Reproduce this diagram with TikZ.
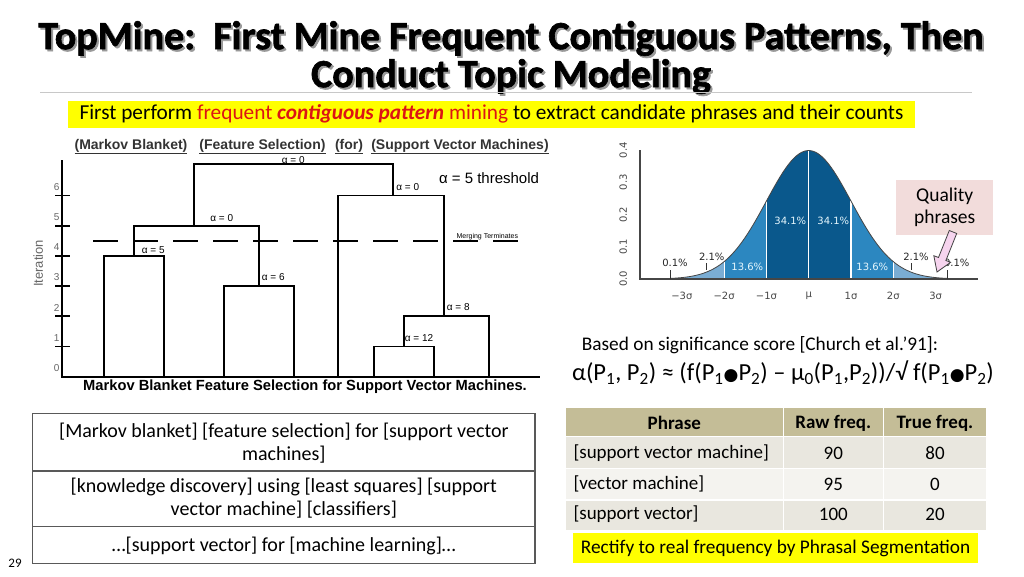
\documentclass[tikz,border=0pt]{standalone}
\usepackage{fontspec}
\setmainfont{Carlito}
\newfontfamily\titlefont{Carlito}[BoldFeatures={FakeBold=1.6}]
\newfontfamily\chartfont{Liberation Sans}
\newfontfamily\symfont{DejaVu Sans}
\usetikzlibrary{positioning,calc}
\definecolor{hiyellow}{RGB}{255,255,0}
\definecolor{curvedark}{RGB}{10,88,140}
\definecolor{curvemid}{RGB}{44,135,192}
\definecolor{curvelight}{RGB}{122,173,212}
\definecolor{curvetail}{RGB}{178,206,228}
\definecolor{pinkbox}{RGB}{242,220,219}
\definecolor{pinkarrow}{RGB}{246,212,238}
\definecolor{tabhead}{RGB}{196,189,151}
\definecolor{tabrowA}{RGB}{233,231,223}
\definecolor{tabrowB}{RGB}{244,243,239}
\definecolor{rulegray}{RGB}{200,200,200}
\definecolor{axisgray}{RGB}{70,70,70}
\definecolor{phrasered}{RGB}{220,20,20}

\begin{document}
\begin{tikzpicture}[
    x=1pt, y=-1pt,
    % Styles
    titletxt/.style={inner sep=0pt, align=center, font=\titlefont\bfseries\fontsize{40}{38}\selectfont},
    titleshade/.style={titletxt, text=black!40},
    yellowbox/.style={rectangle, fill=hiyellow, inner sep=0pt, align=center},
    dline/.style={line width=1.8pt},
    chartlbl/.style={inner sep=0pt, font=\chartfont\fontsize{10}{12}\selectfont},
    ticklbl/.style={inner sep=0pt, text=black!60, font=\chartfont\fontsize{10}{12}\selectfont},
    headlbl/.style={inner sep=0pt, text=black!80, font=\chartfont\bfseries\fontsize{14}{16}\selectfont},
    belllbl/.style={inner sep=0pt, font=\symfont\fontsize{10}{12}\selectfont},
    bodytxt/.style={inner sep=0pt, font=\fontsize{19.3}{23}\selectfont},
    rowtxt/.style={inner sep=0pt, align=center, font=\fontsize{20}{22.5}\selectfont},
    celltxt/.style={inner sep=0pt, font=\fontsize{19}{22}\selectfont}
  ]
  \useasboundingbox[fill=white] (0,0) rectangle (1024,576);

  % --- 1. TITLE ---
  \node[titleshade] (titles) at (513,59.5) {TopMine:\ \ First Mine Frequent Contiguous Patterns, Then\\Conduct Topic Modeling};
  \node[titletxt] (title) at (511,57.5) {TopMine:\ \ First Mine Frequent Contiguous Patterns, Then\\Conduct Topic Modeling};
  \draw[rulegray, line width=0.8pt] (40,92) -- (972,92);

  \node[yellowbox, minimum width=847, minimum height=27, font=\fontsize{21.3}{24}\selectfont] (mining) at (491.5,114)
    {First perform \textcolor{phrasered}{frequent \textbf{\textit{contiguous pattern}} mining} to extract candidate phrases and their counts};

  % --- 2. DENDROGRAM ---
  \node[headlbl] (hmb) at (131,146.7) {\underline{(Markov Blanket)}};
  \node[headlbl] (hfs) at (262.5,146.7) {\underline{(Feature Selection)}};
  \node[headlbl] (hfor) at (349,146.7) {\underline{(for)}};
  \node[headlbl] (hsvm) at (460,146.7) {\underline{(Support Vector Machines)}};

  % axes and ticks
  \draw[dline] (62.3,160) -- (62.3,376.7) -- (540,376.7);
  \foreach \k in {1,...,6}
    \draw[dline] (55,{376.7-30.2*\k}) -- (70,{376.7-30.2*\k});
  \foreach \k in {0,...,6}
    \node[ticklbl] at (56.7,{368-30.2*\k}) {\k};
  \node[ticklbl, rotate=90, font=\chartfont\fontsize{13}{15}\selectfont] (iter) at (38.3,263.3) {Iteration};

  % merges
  \draw[dline] (104,376.7) -- (104,255.9) -- (164,255.9) -- (164,376.7);
  \draw[dline] (224,376.7) -- (224,286.1) -- (294,286.1) -- (294,376.7);
  \draw[dline] (134,255.9) -- (134,225.7) -- (258.7,225.7) -- (258.7,286.1);
  \draw[dline] (194.3,225.7) -- (194.3,164.3) -- (392.7,164.3) -- (392.7,195.5);
  \draw[dline] (338.3,376.7) -- (338.3,195.5) -- (444.3,195.5) -- (444.3,316.3);
  \draw[dline] (404,346.5) -- (404,316.3) -- (489.3,316.3) -- (489.3,376.7);
  \draw[dline] (374,376.7) -- (374,346.5) -- (434,346.5) -- (434,376.7);

  \node[chartlbl] (a5) at (153.3,250) {α = 5};
  \node[chartlbl] (a6) at (273.3,276.7) {α = 6};
  \node[chartlbl] (a0l) at (221.7,218.3) {α = 0};
  \node[chartlbl] (a0t) at (293.3,160) {α = 0};
  \node[chartlbl] (a0r) at (407.7,187.3) {α = 0};
  \node[chartlbl] (a8) at (458.3,306.7) {α = 8};
  \node[chartlbl] (a12) at (419,338.3) {α = 12};

  % threshold
  \draw[line width=2pt, dash pattern=on 25pt off 15pt] (93.3,240.7) -- (531.7,240.7);
  \node[chartlbl, font=\chartfont\fontsize{7}{8}\selectfont] (merge) at (487.3,236.2) {Merging Terminates};
  \node[chartlbl, font=\chartfont\fontsize{15}{17}\selectfont] (thresh) at (489,177.7) {α = 5 threshold};
  \node[chartlbl, font=\chartfont\bfseries\fontsize{14.7}{17}\selectfont] (caption) at (305,386.7)
    {Markov Blanket Feature Selection for Support Vector Machines.};

  % --- 3. NORMAL CURVE ---
  \def\mux{808.7}\def\sg{42.3}\def\bx{279}\def\amp{128.45}
  \foreach \a/\b/\c in {-3.8/-3/curvetail, -3/-2/curvelight, -2/-1/curvemid, -1/1/curvedark,
                        1/2/curvemid, 2/3/curvelight, 3/3.8/curvetail}
    \fill[\c] ({\mux+\sg*\a},\bx) -- plot[domain=\a:\b, samples=30]
      ({\mux+\sg*\x},{\bx-\amp*exp(-0.5*(\x)*(\x))}) -- ({\mux+\sg*\b},\bx) -- cycle;
  \foreach \t in {-2,-1,0,1,2}
    \draw[white, line width=1.2pt] ({\mux+\sg*\t},\bx) -- ({\mux+\sg*\t},{\bx-\amp*exp(-0.5*(\t)*(\t))});
  \draw[axisgray, line width=0.8pt] plot[domain=-3.8:3.8, samples=120]
    ({\mux+\sg*\x},{\bx-\amp*exp(-0.5*(\x)*(\x))});
  \draw[axisgray, line width=1.2pt] (640,150) -- (640,\bx) -- (978.3,\bx);
  \foreach \v in {0,...,4}
    \node[belllbl, rotate=90, text=axisgray] at (623.3,{\bx-32.2*\v}) {0.\v};
  \foreach \k/\s in {-3/−3σ, -2/−2σ, -1/−1σ, 0/μ, 1/1σ, 2/2σ, 3/3σ}
    \node[belllbl, text=axisgray] at ({\mux+\sg*\k},295.7) {\s};

  \node[belllbl, text=white!90!cyan] (p1l) at (790.3,220.7) {34.1\%};
  \node[belllbl, text=white!90!cyan] (p1r) at (833.3,220.7) {34.1\%};
  \node[belllbl, text=white!90!cyan] (p2l) at (747.3,266.7) {13.6\%};
  \node[belllbl, text=white!90!cyan] (p2r) at (872.3,266.7) {13.6\%};
  \node[belllbl, text=black!85] (p3l) at (711.7,256.7) {2.1\%};
  \node[belllbl, text=black!85] (p3r) at (916,256.7) {2.1\%};
  \node[belllbl, text=black!85] (p4l) at (675,263.3) {0.1\%};
  \node[belllbl, text=black!85] (p4r) at (956.7,263.3) {0.1\%};
  \draw[black!80, line width=0.8pt] (670,270) -- (670,279);
  \draw[black!80, line width=0.8pt] (706.7,263.3) -- (706.7,270);
  \draw[black!80, line width=0.8pt] (911.7,263.3) -- (911.7,270);
  \draw[black!80, line width=0.8pt] (947.7,270) -- (947.7,279);

  \node[fill=pinkbox, minimum width=97, minimum height=55, align=center, inner sep=0pt,
        font=\fontsize{19.5}{22}\selectfont] (quality) at (944.7,207.5) {Quality\\phrases};
  \filldraw[fill=pinkarrow, draw=black!75, line width=0.8pt]
    (949.3,230.5) -- (956.7,233.5) -- (945.9,260.5) -- (950.6,262.3) -- (937,272)
    -- (933.8,255.7) -- (938.5,257.5) -- cycle;

  % --- 4. SIGNIFICANCE SCORE ---
  \node[bodytxt] (church) at (760,345) {Based on significance score [Church et al.’91]:};
  \node[inner sep=0pt, font=\fontsize{24.5}{28}\selectfont] (score) at (783,373)
    {α(P\textsubscript{1}, P\textsubscript{2}) ≈ (f(P\textsubscript{1}{\symfont\fontsize{17}{17}\selectfont ●}P\textsubscript{2}) – μ\textsubscript{0}(P\textsubscript{1},P\textsubscript{2}))/√ f(P\textsubscript{1}{\symfont\fontsize{17}{17}\selectfont ●}P\textsubscript{2})};

  % --- 5. FREQUENCY TABLE ---
  \fill[tabhead] (566,408.3) rectangle (986,436.7);
  \fill[tabrowA] (566,436.7) rectangle (986,468.3);
  \fill[tabrowB] (566,468.3) rectangle (986,500);
  \fill[tabrowA] (566,500) rectangle (986,530);
  \foreach \yy in {436.7,468.3,500}
    \draw[white, line width=1.5pt] (566,\yy) -- (986,\yy);
  \draw[white, line width=1.5pt] (783.3,408.3) -- (783.3,530);
  \draw[white, line width=1.5pt] (883.3,408.3) -- (883.3,530);

  \node[celltxt, font=\bfseries\fontsize{19}{22}\selectfont] (hphrase) at (674.3,423) {Phrase};
  \node[celltxt, font=\bfseries\fontsize{19}{22}\selectfont] (hraw) at (833.3,423) {Raw freq.};
  \node[celltxt, font=\bfseries\fontsize{19}{22}\selectfont] (htrue) at (935,423) {True freq.};
  \node[celltxt, anchor=west] (r1) at (573.3,453) {[support vector machine]};
  \node[celltxt] (r1raw) at (833.3,453) {90};
  \node[celltxt] (r1true) at (935,453) {80};
  \node[celltxt, anchor=west] (r2) at (573.3,484) {[vector machine]};
  \node[celltxt] (r2raw) at (833.3,484) {95};
  \node[celltxt] (r2true) at (935,484) {0};
  \node[celltxt, anchor=west] (r3) at (573.3,514) {[support vector]};
  \node[celltxt] (r3raw) at (833.3,514) {100};
  \node[celltxt] (r3true) at (935,514) {20};

  \node[yellowbox, minimum width=405, minimum height=30, font=\fontsize{19.3}{22}\selectfont] (rectify) at (775.5,548)
    {Rectify to real frequency by Phrasal Segmentation};

  % --- 6. SEGMENTED SENTENCES ---
  \draw[black!65, line width=1.2pt] (32.7,413.3) rectangle (535,563.3);
  \draw[black!65, line width=1.2pt] (32.7,471) -- (535,471);
  \draw[black!65, line width=1.2pt] (32.7,526.7) -- (535,526.7);
  \node[rowtxt] (seg1) at (283.8,443) {[Markov blanket] [feature selection] for [support vector\\machines]};
  \node[rowtxt] (seg2) at (283.8,498) {[knowledge discovery] using [least squares] [support\\vector machine] [classifiers]};
  \node[rowtxt] (seg3) at (283.8,545.5) {…[support vector] for [machine learning]…};

  \node[inner sep=0pt, font=\fontsize{13}{15}\selectfont] (pageno) at (15,563) {29};
\end{tikzpicture}
\end{document}
